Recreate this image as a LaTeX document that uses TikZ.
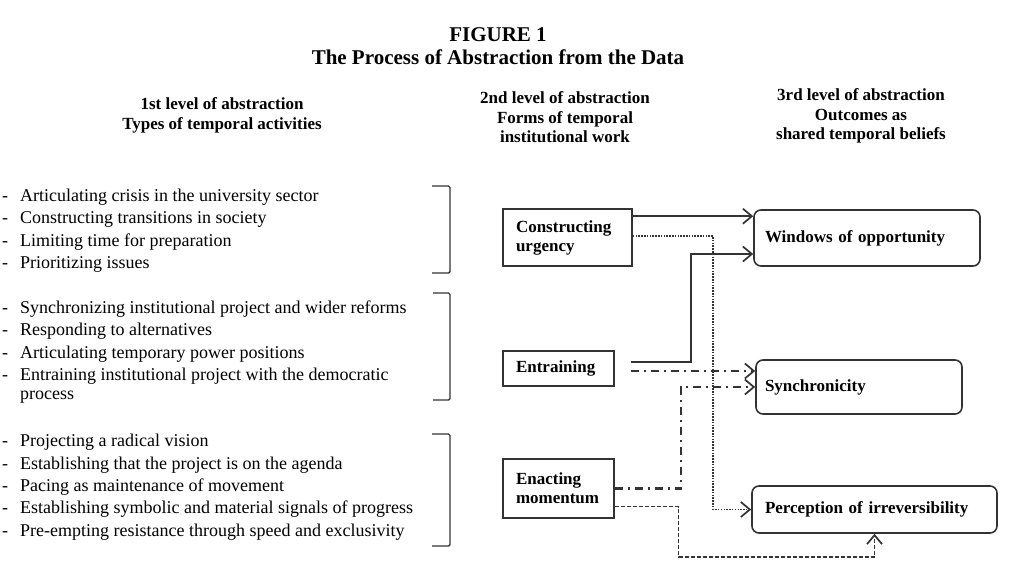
\documentclass[tikz,border=0pt]{standalone}
\usepackage{fontspec}
\setmainfont{Liberation Serif}
\usetikzlibrary{arrows.meta,calc}

\definecolor{ink}{HTML}{333333}

\tikzset{
  head/.style={font=\fontsize{17}{19.5}\selectfont\bfseries,align=center,inner sep=0pt},
  activity/.style={anchor=base west,align=left,inner sep=0pt,font=\fontsize{18}{19}\selectfont},
  work/.style={draw=ink,line width=1.6pt,inner xsep=0pt,align=left,font=\fontsize{17}{19}\selectfont\bfseries},
  belief/.style={work,rounded corners=7pt},
  bracket/.style={draw=ink,line width=1.4pt,rounded corners=1.5pt},
  link/.style={draw=ink,-{Straight Barb[length=9pt,width=15pt,line width=1.7pt]}},
}

\begin{document}
\begin{tikzpicture}[x=1pt,y=-1pt]
\useasboundingbox (0,0) rectangle (1020,579);

% title and column heads
\node[head,font=\fontsize{21}{23}\selectfont\bfseries] (title) at (498,46.5) {FIGURE 1\\The Process of Abstraction from the Data};
\node[head] (lvl1) at (222,115.5) {1st level of abstraction\\Types of temporal activities};
\node[head] (lvl2) at (565,117.5) {2nd level of abstraction\\Forms of temporal\\institutional work};
\node[head] (lvl3) at (861,116) {3rd level of abstraction\\Outcomes as\\shared temporal beliefs};

% 1st level: temporal activities
\foreach \txt [count=\i] in {Articulating crisis in the university sector,
    Constructing transitions in society, Limiting time for preparation, Prioritizing issues}
  \node[activity] (urg-\i) at (20,{201.5+22.4*(\i-1)}) {\llap{-\hspace{12pt}}\txt};
\foreach \txt [count=\i] in {Synchronizing institutional project and wider reforms,
    Responding to alternatives, Articulating temporary power positions}
  \node[activity] (ent-\i) at (20,{313.3+22.4*(\i-1)}) {\llap{-\hspace{12pt}}\txt};
% wrapped item: base anchor sits on its last line
\node[activity] (ent-4) at (20,399) {\llap{-\hspace{12pt}}Entraining institutional project with the democratic\\process};
\foreach \txt [count=\i] in {Projecting a radical vision, Establishing that the project is on the agenda,
    Pacing as maintenance of movement, Establishing symbolic and material signals of progress,
    Pre-empting resistance through speed and exclusivity}
  \node[activity] (mom-\i) at (20,{446.7+22.4*(\i-1)}) {\llap{-\hspace{12pt}}\txt};

\draw[bracket] (432,186) -- (450,186) -- (450,273) -- (432,273);
\draw[bracket] (433,293) -- (450,293) -- (450,400) -- (433,400);
\draw[bracket] (432,434) -- (450,434) -- (450,546) -- (432,546);

% 2nd level: forms of temporal institutional work
\node[work,minimum width=129,minimum height=57,text width=103] (cu) at (567.5,237.5) {Constructing\\urgency};
\node[work,minimum width=111,minimum height=35,text width=85] (en) at (558.5,368.5) {Entraining};
\node[work,minimum width=111,minimum height=59,text width=85] (em) at (558.5,488.5) {Enacting\\momentum};

% 3rd level: shared temporal beliefs
\node[belief,minimum width=226,minimum height=56,text width=204] (wo) at (867,238) {Windows of opportunity};
\node[belief,minimum width=206,minimum height=54,text width=188] (sy) at (859,387) {Synchronicity};
\node[belief,minimum width=245,minimum height=47,text width=219] (pi) at (874.5,509.5) {Perception of irreversibility};

% connectors
\draw[link,line width=2.2pt] ($(cu.north east)+(0,8)$) coordinate (a1) -- (a1 -| wo.west);
\draw[link,line width=2.2pt] ($(en.east)+(16,-6.5)$) -| ($(wo.west)+(-62,16)$) coordinate (a2) -- (a2 -| wo.west);
\draw[link,line width=1.7pt,dash pattern=on 1.5pt off 1.3pt] ($(cu.north east)+(0,28)$) -| ($(pi.west)+(-38,0)$) -- (pi.west);
\draw[link,line width=2.2pt,dash pattern=on 8pt off 5pt on 2pt off 5pt] ($(en.east)+(16,2.5)$) coordinate (a3) -- (a3 -| sy.west);
\draw[link,line width=2.2pt,dash pattern=on 8pt off 5pt on 2pt off 5pt] (em.east) -| ($(sy.west)+(-74,0)$) -- (sy.west);
\draw[link,line width=1.4pt,dash pattern=on 4pt off 2pt] ($(em.east)+(0,18)$) -| ($(pi.south)+(-196,23)$) -| (pi.south);

\end{tikzpicture}
\end{document}
